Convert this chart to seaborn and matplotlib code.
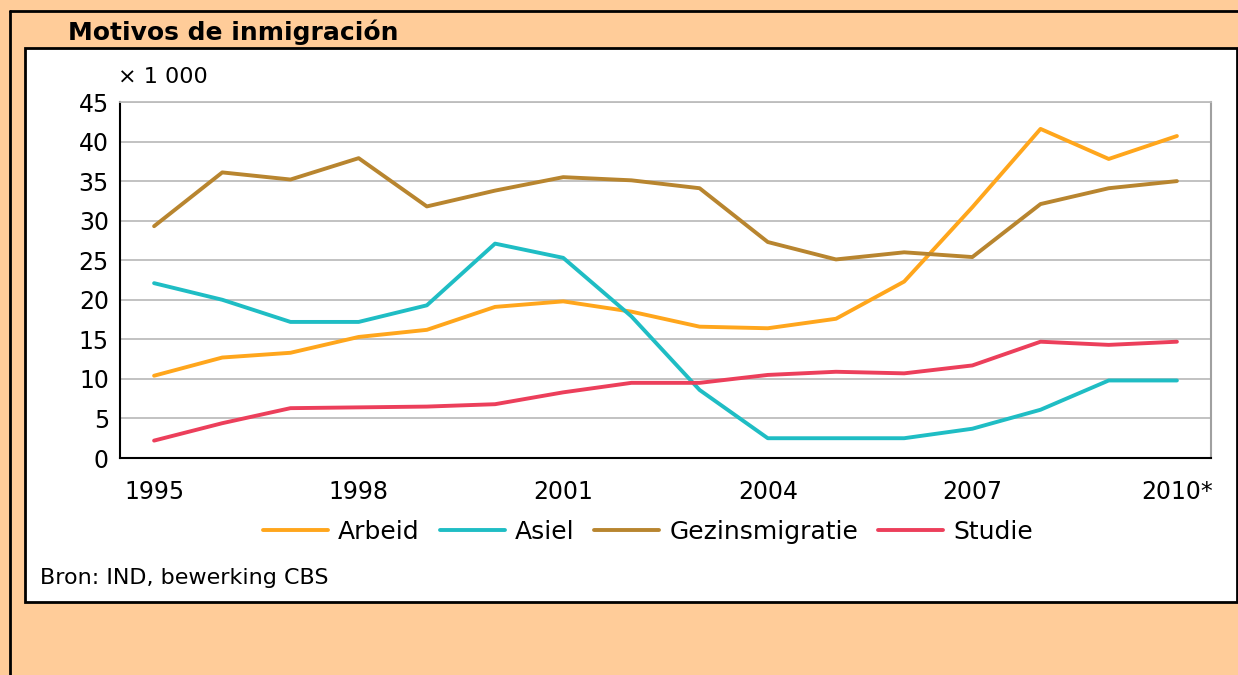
import numpy as np
import pandas as pd
import matplotlib
matplotlib.use("Agg")
import matplotlib.pyplot as plt
import seaborn as sns
from matplotlib.patches import Rectangle
from matplotlib.lines import Line2D

# ================= DATA =================
YEARS = list(range(1995, 2011))
YEAR_LABELS = ["1995", "1998", "2001", "2004", "2007", "2010*"]
LABEL_POS = [0, 3, 6, 9, 12, 15]

arbeid = [10.4, 12.7, 13.3, 15.3, 16.2, 19.1, 19.8, 18.5, 16.6, 16.4, 17.6, 22.3, 31.7, 41.6, 37.8, 40.7]
asiel = [22.1, 20.0, 17.2, 17.2, 19.3, 27.1, 25.3, 17.9, 8.6, 2.5, 2.5, 2.5, 3.7, 6.1, 9.8, 9.8]
gezinsmigratie = [29.3, 36.1, 35.2, 37.9, 31.8, 33.8, 35.5, 35.1, 34.1, 27.3, 25.1, 26.0, 25.4, 32.1, 34.1, 35.0]
studie = [2.2, 4.4, 6.3, 6.4, 6.5, 6.8, 8.3, 9.5, 9.5, 10.5, 10.9, 10.7, 11.7, 14.7, 14.3, 14.7]

SERIES = ["Arbeid", "Asiel", "Gezinsmigratie", "Studie"]
COLORS = {"Arbeid": "#FFA61C", "Asiel": "#1FBDC4",
          "Gezinsmigratie": "#B8852F", "Studie": "#EC3F5B"}
# ========================================

W, H = 1238, 675
PEACH = "#FFCC99"

df = pd.DataFrame({
    "pos": list(range(len(YEARS))) * 4,
    "value": arbeid + asiel + gezinsmigratie + studie,
    "serie": sum([[s] * len(YEARS) for s in SERIES], []),
})

sns.set_style("white")
plt.rcParams["font.family"] = ["DejaVu Sans"]
plt.rcParams["text.color"] = "black"
plt.rcParams["xtick.color"] = "black"
plt.rcParams["ytick.color"] = "black"

fig = plt.figure(figsize=(W / 100, H / 100), dpi=100, facecolor=PEACH)

def fx(px):
    return px / W

def fy(py):
    return 1 - py / H

# outer frame (left + top) and white inner box
fig.add_artist(Line2D([fx(10), fx(10)], [fy(11), fy(675)], color="black", lw=2))
fig.add_artist(Line2D([fx(10), fx(1238)], [fy(11), fy(11)], color="black", lw=2))
fig.add_artist(Rectangle((fx(25), fy(602)), fx(1237) - fx(25), fy(48) - fy(602),
                         facecolor="white", edgecolor="black", lw=2, zorder=0))

fig.text(fx(68), fy(32), "Motivos de inmigración", fontsize=18, fontweight="bold",
         va="center", ha="left")

ax = fig.add_axes([fx(120), fy(458), fx(1211) - fx(120), fy(102) - fy(458)])
ax.set_facecolor("none")

sns.lineplot(data=df, x="pos", y="value", hue="serie", palette=COLORS,
             hue_order=SERIES, linewidth=2.8, ax=ax, legend=False)

ax.set_xlim(-0.5, len(YEARS) - 0.5)
ax.set_ylim(0, 45)
ax.set_yticks(np.arange(0, 46, 5))
ax.yaxis.grid(True, color="#BDBDBD", lw=1.3)
ax.set_axisbelow(True)

# tick marks between categories, labels at centers
ax.set_xticks(np.arange(-0.5, len(YEARS), 1))
ax.set_xticklabels([])
ax.set_xticks(LABEL_POS, minor=True)
ax.set_xticklabels(YEAR_LABELS, minor=True)
ax.tick_params(axis="x", which="major", length=5, width=1.3, color="black", direction="out")
ax.tick_params(axis="x", which="minor", length=0, pad=16, labelsize=17)
ax.tick_params(axis="y", length=5, width=1.3, color="black", direction="out", labelsize=17, pad=3)
ax.set_xlabel("")
ax.set_ylabel("")

for side in ["left", "bottom"]:
    ax.spines[side].set_color("black")
    ax.spines[side].set_linewidth(1.5)
ax.spines["top"].set_color("#BDBDBD")
ax.spines["top"].set_linewidth(1.3)
ax.spines["right"].set_color("#A0A0A0")
ax.spines["right"].set_linewidth(1.5)

fig.text(fx(118), fy(77), "× 1 000", fontsize=16, va="center", ha="left")

handles = [Line2D([], [], color=COLORS[s], lw=2.8) for s in SERIES]
fig.legend(handles, SERIES, loc="center", bbox_to_anchor=(fx(648), fy(532)),
           ncol=4, frameon=False, fontsize=18, handlelength=2.6,
           handletextpad=0.4, columnspacing=0.8)

fig.text(fx(40), fy(578), "Bron: IND, bewerking CBS", fontsize=16, va="center", ha="left")

fig.savefig("out.png", dpi=100, facecolor=PEACH)
